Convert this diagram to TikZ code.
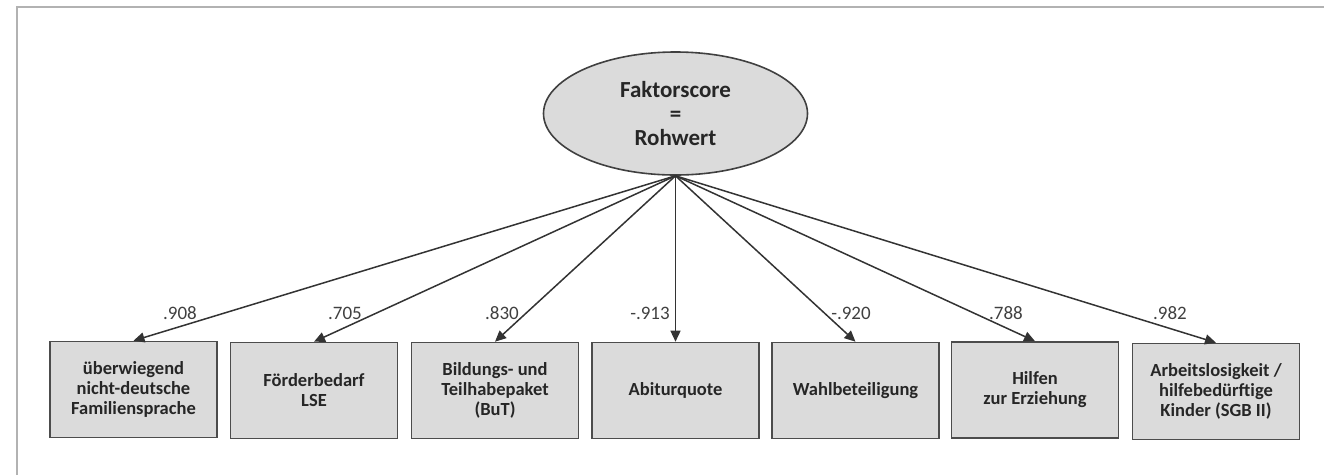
\documentclass[tikz,border=0pt]{standalone}
\usepackage{fontspec}
\setmainfont{Carlito}
\usetikzlibrary{arrows.meta,shapes.geometric}

\tikzset{
  var/.style={draw=black!70, line width=1.6pt, fill=black!14, minimum width=167pt,
    minimum height=96pt, align=center, text=black!85,
    font=\bfseries\fontsize{18.5}{20}\selectfont, inner sep=2pt},
  factor/.style={ellipse, draw=black!75, line width=1.6pt, fill=black!14, minimum width=264pt,
    minimum height=123pt, align=center, text=black!85,
    font=\bfseries\fontsize{23}{24}\selectfont, inner sep=0pt},
  load/.style={font=\fontsize{19}{20}\selectfont, text=black!75},
  path/.style={-{Triangle[length=11pt,width=10pt]}, line width=1.5pt, draw=black!80}
}

\begin{document}
\begin{tikzpicture}[x=1pt,y=-1pt]
  \useasboundingbox (0,0) rectangle (1324,475);
  \draw[black!30, line width=2pt] (17,475) -- (17,7) -- (1324,7);

  \node[factor] (f) at (675.5,113.5) {Faktorscore\\=\\Rohwert};

  \node[var] (v1) at (133.5,389.5) {überwiegend\\nicht-deutsche\\Familiensprache};
  \node[var] (v2) at (314,390.5) {Förderbedarf\\LSE};
  \node[var] (v3) at (495,390.5) {Bildungs- und\\Teilhabepaket\\(BuT)};
  \node[var] (v4) at (675.5,390.5) {Abiturquote};
  \node[var] (v5) at (855.5,390.5) {Wahlbeteiligung};
  \node[var] (v6) at (1035,390) {Hilfen\\zur Erziehung};
  \node[var] (v7) at (1216,391.5) {Arbeitslosigkeit /\\hilfebedürftige\\Kinder (SGB II)};

  \begin{scope}[path]
    \draw (f.south) -- (v1.north);
    \draw (f.south) -- (v2.north);
    \draw (f.south) -- (v3.north);
    \draw (f.south) -- (v4.north);
    \draw (f.south) -- (v5.north);
    \draw (f.south) -- (v6.north);
    \draw (f.south) -- (v7.north);
  \end{scope}

  \node[load] (l1) at (180,313) {.908};
  \node[load] (l2) at (345,313) {.705};
  \node[load] (l3) at (502,313) {.830};
  \node[load] (l4) at (650,313) {-.913};
  \node[load] (l5) at (851,313) {-.920};
  \node[load] (l6) at (1006,313) {.788};
  \node[load] (l7) at (1170,313) {.982};
\end{tikzpicture}
\end{document}
